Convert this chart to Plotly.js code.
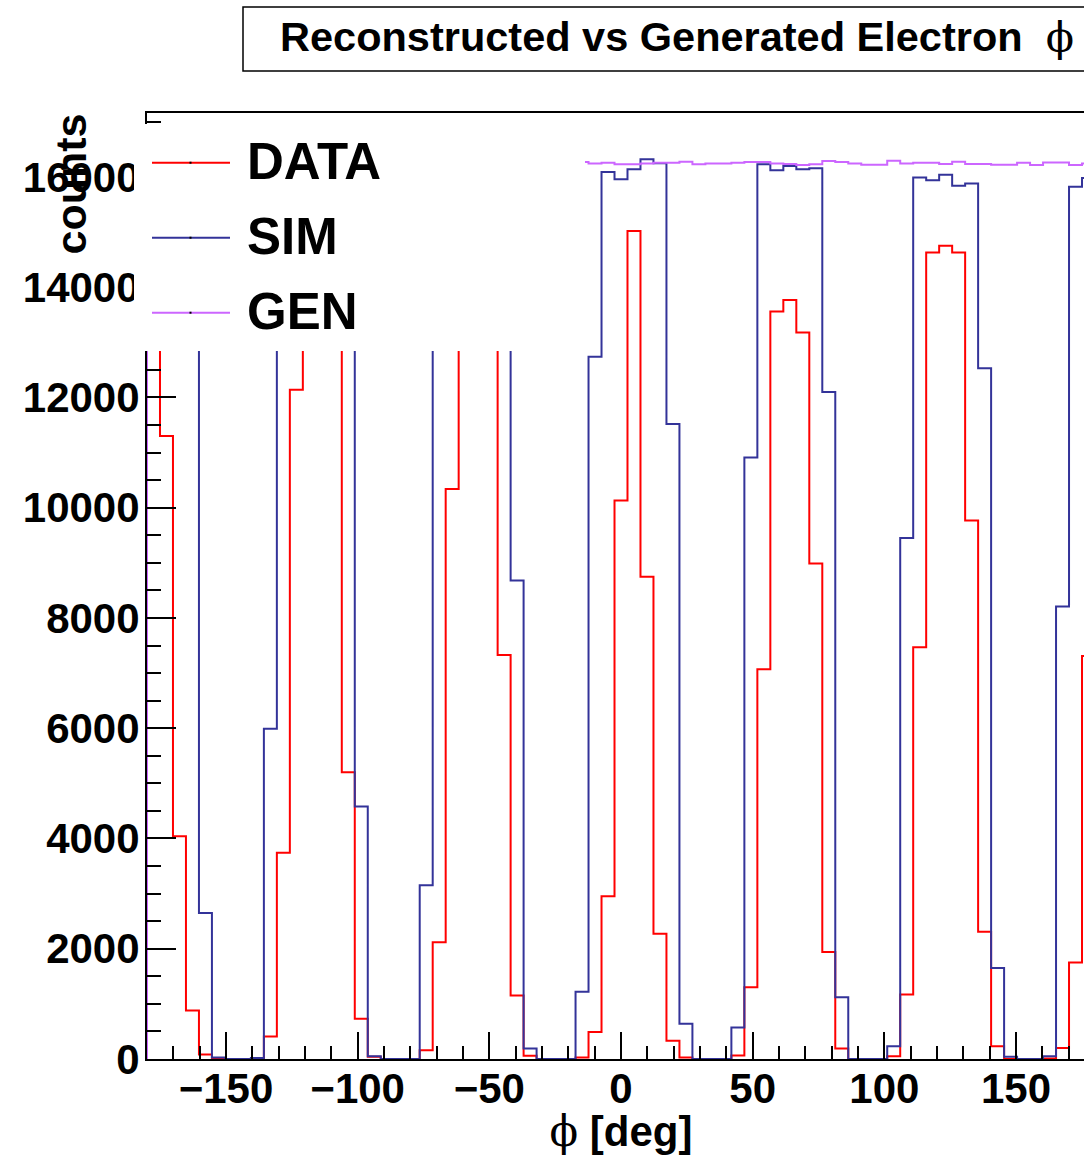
<!DOCTYPE html>
<html>
<head>
<meta charset="utf-8">
<script src="https://cdn.plot.ly/plotly-3.0.1.min.js"></script>
<style>
html, body { margin: 0; padding: 0; overflow: hidden; background: #ffffff; }
#chart { width: 1110px; height: 1156px; }
</style>
</head>
<body>
<div id="chart"></div>
<script>
// ---- histogram definition: 73 bins from -180 to 180 deg ----
const nBins = 73;
const phiMin = -180;
const phiMax = 180;

// ---- DATA (reconstructed, measured) counts per bin ----
const dataCounts = [
  14200, 11300, 4040, 880, 80, 20, 0, 0, 0, 410,
  3740, 12140, 14500, 15000, 13800, 5200, 730, 40, 0, 0,
  0, 160, 2120, 10340, 14800, 15200, 13600, 7330, 1150, 60,
  0, 0, 0, 25, 490, 2950, 10130, 15020, 8750, 2270,
  330, 25, 0, 0, 0, 65, 1300, 7070, 13560, 13770,
  13180, 8990, 1940, 190, 0, 0, 0, 50, 1170, 7470,
  14630, 14750, 14630, 9770, 2310, 230, 0, 0, 0, 10,
  200, 1750, 7310
];

// ---- SIM (reconstructed, simulated) counts per bin ----
const simCounts = [
  16000, 16100, 15950, 13600, 2650, 25, 0, 0, 20, 5990,
  16050, 16150, 16000, 16100, 15950, 14300, 4580, 50, 0, 0,
  0, 3150, 14600, 16100, 16000, 16150, 16050, 15900, 8680, 190,
  0, 0, 0, 1220, 12740, 16090, 15960, 16140, 16320, 16250,
  11520, 640, 0, 0, 0, 570, 10910, 16230, 16120, 16200,
  16140, 16160, 12100, 1120, 0, 0, 0, 230, 9450, 15990,
  15940, 16040, 15840, 15880, 12530, 1650, 40, 0, 0, 50,
  8210, 15820, 15980
];

// ---- GEN (generated) counts per bin ----
const genCounts = [
  16240, 16260, 16230, 16270, 16250, 16220, 16280, 16240, 16250, 16260,
  16230, 16240, 16270, 16250, 16220, 16260, 16240, 16280, 16230, 16250,
  16260, 16240, 16220, 16270, 16250, 16230, 16260, 16240, 16280, 16250,
  16230, 16260, 16240, 16270, 16246, 16258, 16229, 16229, 16246, 16258,
  16258, 16276, 16229, 16246, 16246, 16258, 16270, 16270, 16246, 16234,
  16216, 16229, 16288, 16270, 16246, 16222, 16222, 16294, 16246, 16258,
  16258, 16234, 16276, 16234, 16234, 16222, 16222, 16258, 16216, 16264,
  16264, 16216, 16246
];

// ---- labels ----
const seriesNames = ["DATA", "SIM", "GEN"];
const seriesColors = ["#ff0000", "#333399", "#cc66ff"];
const titleText = 'Reconstructed vs Generated Electron\u00a0\u00a0<span style="font-family:DejaVu Serif;font-weight:normal">ϕ</span>';
const xTitleText = '<span style="font-family:DejaVu Serif;font-weight:normal">ϕ</span> [deg]';
const yTitleText = 'counts';

// ---- build step outlines from bin edges ----
const binW = (phiMax - phiMin) / nBins;
const edges = [];
for (let i = 0; i <= nBins; i++) edges.push(phiMin + i * binW);

function stepTrace(counts, name, color) {
  const xs = [edges[0]];
  const ys = [0];
  for (let i = 0; i < counts.length; i++) { xs.push(edges[i]); ys.push(counts[i]); }
  xs.push(edges[nBins]); ys.push(0);
  return {
    type: 'scatter', mode: 'lines', name: name,
    x: xs, y: ys,
    line: { shape: 'hv', color: color, width: 2 },
    hoverinfo: 'skip', showlegend: false
  };
}

const traces = [
  stepTrace(dataCounts, seriesNames[0], seriesColors[0]),
  stepTrace(simCounts, seriesNames[1], seriesColors[1]),
  stepTrace(genCounts, seriesNames[2], seriesColors[2])
];

// ---- layout geometry (pixels) ----
const FIG_W = 1110, FIG_H = 1156;
const M = { l: 147, r: 15, t: 113, b: 97 };
const plotW = FIG_W - M.l - M.r;
const plotH = FIG_H - M.t - M.b;
const px = v => (v - M.l) / plotW;            // pixel x -> paper
const py = v => (FIG_H - M.b - v) / plotH;    // pixel y -> paper

const FONT = '"Liberation Sans", Arial, Helvetica, sans-serif';

const shapes = [
  // title box
  { type: 'rect', xref: 'paper', yref: 'paper', layer: 'above',
    x0: px(243), x1: px(1102), y0: py(71), y1: py(7),
    line: { color: '#000000', width: 1.5 }, fillcolor: '#ffffff' },
  // legend box (no border)
  { type: 'rect', xref: 'paper', yref: 'paper', layer: 'above',
    x0: px(134), x1: px(585), y0: py(351), y1: py(124),
    line: { width: 0 }, fillcolor: '#ffffff' }
];
const legendY = [162.7, 237.7, 312.7];
const annotations = [];
seriesNames.forEach((nm, i) => {
  shapes.push({ type: 'line', xref: 'paper', yref: 'paper', layer: 'above',
    x0: px(152), x1: px(230), y0: py(legendY[i]), y1: py(legendY[i]),
    line: { color: seriesColors[i], width: 2 } });
  shapes.push({ type: 'rect', xref: 'paper', yref: 'paper', layer: 'above',
    x0: px(189.5), x1: px(191.5), y0: py(legendY[i] + 1), y1: py(legendY[i] - 1),
    line: { width: 0 }, fillcolor: '#000000' });
  annotations.push({ xref: 'paper', yref: 'paper', showarrow: false,
    x: px(245), y: py(legendY[i] - 1), xanchor: 'left', yanchor: 'middle',
    text: nm, font: { family: FONT, size: 51, weight: 'bold', color: '#000000' } });
});
annotations.push({ xref: 'paper', yref: 'paper', showarrow: false,
  x: px(278), y: py(37), xanchor: 'left', yanchor: 'middle',
  text: titleText, font: { family: FONT, size: 41.5, weight: 'bold', color: '#000000' } });
annotations.push({ xref: 'paper', yref: 'paper', showarrow: false,
  x: px(70), y: py(112), xanchor: 'center', yanchor: 'top', textangle: -90,
  text: yTitleText, font: { family: FONT, size: 43, weight: 'bold', color: '#000000' } });

const layout = {
  width: FIG_W, height: FIG_H,
  margin: M,
  paper_bgcolor: '#ffffff', plot_bgcolor: '#ffffff',
  font: { family: FONT, color: '#000000' },
  showlegend: false,
  xaxis: {
    range: [phiMin, phiMax], tick0: 0, dtick: 50,
    showgrid: false, zeroline: false,
    showline: true, linecolor: '#000000', linewidth: 2, mirror: true,
    ticks: 'inside', ticklen: 27, tickwidth: 2, tickcolor: '#000000',
    minor: { dtick: 10, ticks: 'inside', ticklen: 13, tickwidth: 2, tickcolor: '#000000', showgrid: false },
    tickfont: { family: FONT, size: 42, weight: 'bold', color: '#000000' },
    ticklabelstandoff: -8,
    title: { text: xTitleText, font: { family: FONT, size: 42, weight: 'bold', color: '#000000' }, standoff: 17 }
  },
  yaxis: {
    range: [0, 17160], tick0: 0, dtick: 2000,
    showgrid: false, zeroline: false,
    showline: true, linecolor: '#000000', linewidth: 2, mirror: true,
    ticks: 'inside', ticklen: 29, tickwidth: 2, tickcolor: '#000000',
    minor: { dtick: 500, ticks: 'inside', ticklen: 14, tickwidth: 2, tickcolor: '#000000', showgrid: false },
    tickfont: { family: FONT, size: 42, weight: 'bold', color: '#000000' },
    ticklabelstandoff: -3,
    tickformat: 'd'
  },
  shapes: shapes,
  annotations: annotations
};

Plotly.newPlot('chart', traces, layout, { staticPlot: true, responsive: false });
</script>
</body>
</html>
